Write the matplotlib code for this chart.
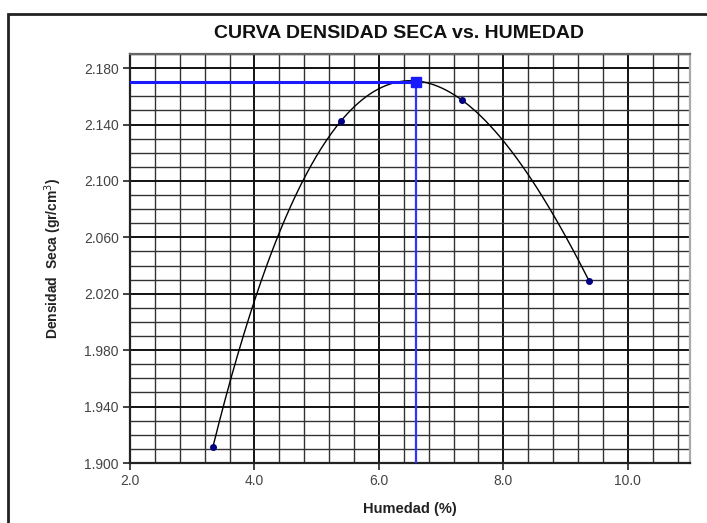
import numpy as np
import matplotlib
matplotlib.use("Agg")
import matplotlib.pyplot as plt
from matplotlib.ticker import FixedLocator, MultipleLocator, FormatStrFormatter
from matplotlib.patches import Rectangle

plt.rcParams['font.family'] = ['Liberation Sans', 'DejaVu Sans']

# Data
humedad = [3.33, 5.39, 7.33, 9.38]          # %
densidad = [1.911, 2.1425, 2.1575, 2.029]    # gr/cm3
omc = 6.6          # optimum moisture content (%)
mdd = 2.170        # maximum dry density
title = "CURVA DENSIDAD SECA vs. HUMEDAD"
xlabel = "Humedad (%)"
ylabel = "Densidad  Seca (gr/cm$^3$)"
xticks = [2.0, 4.0, 6.0, 8.0, 10.0]
yticks = [1.900, 1.940, 1.980, 2.020, 2.060, 2.100, 2.140, 2.180]
xlim = (2.0, 11.0)
ylim = (1.900, 2.190)

fig = plt.figure(figsize=(7.07, 5.23), dpi=100)
ax = fig.add_axes([0.1839, 0.1147, 0.792, 0.782])

# smooth curve: cubic through the measured points
coef = np.polyfit(humedad, densidad, 3)
xs = np.linspace(min(humedad), max(humedad), 300)
ax.plot(xs, np.polyval(coef, xs), color='black', lw=1.0, zorder=4)
ax.plot(humedad, densidad, 'o', color='#000080', ms=4, zorder=5)

# optimum lines
ax.plot([xlim[0], omc], [mdd, mdd], color='#1a1aff', lw=2.2, zorder=4)
ax.plot([omc, omc], [ylim[0], mdd], color='#3333ff', lw=1.6, zorder=4)
ax.plot([omc], [mdd], 's', color='#1a1aff', ms=7, zorder=6)

ax.set_xlim(*xlim)
ax.set_ylim(*ylim)
ax.xaxis.set_major_locator(FixedLocator(xticks))
ax.xaxis.set_minor_locator(MultipleLocator(0.4))
ax.yaxis.set_major_locator(FixedLocator(yticks))
ax.yaxis.set_minor_locator(FixedLocator(np.arange(ylim[0], ylim[1] + 1e-9, 0.01)))
ax.xaxis.set_major_formatter(FormatStrFormatter('%.1f'))
ax.yaxis.set_major_formatter(FormatStrFormatter('%.3f'))
ax.grid(which='major', color='#111111', lw=1.4, zorder=1)
ax.grid(which='minor', color='#333333', lw=1.0, zorder=1)
ax.set_axisbelow(True)
ax.tick_params(which='major', direction='out', length=5, width=1.2,
               labelsize=10, colors='#222222', labelcolor='#444444', pad=3)
ax.tick_params(which='minor', length=0)
for s in ax.spines.values():
    s.set_color('#222222')
    s.set_linewidth(1.6)
ax.spines['right'].set_color('#aaaaaa')
ax.spines['top'].set_color('#666666')

fig.text(0.565, 0.935, title, ha='center', va='center', fontsize=14,
         fontweight='bold', color='#111111')
ax.set_xlabel(xlabel, fontsize=10.5, fontweight='bold', color='#222222', labelpad=10)
ax.set_ylabel(ylabel, fontsize=10, fontweight='bold', color='#222222', labelpad=14)

# outer frame
fig.patches.append(Rectangle((8/707, -0.1), 1.2, 1 - 14/523 + 0.1,
                             transform=fig.transFigure, fill=False,
                             ec='#222222', lw=2.0))

fig.savefig('out.png', dpi=100)
